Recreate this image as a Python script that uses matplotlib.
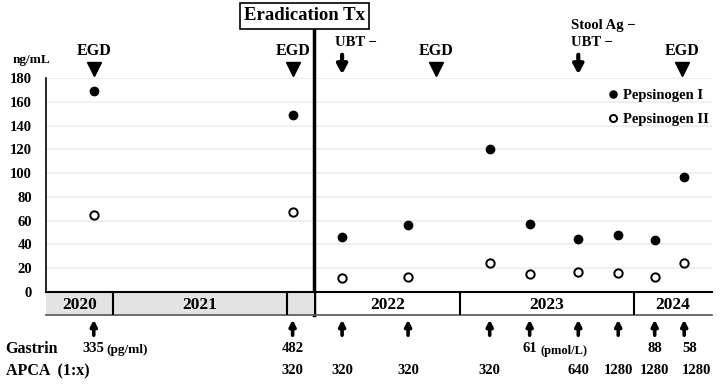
import matplotlib
matplotlib.use("Agg")
import matplotlib.pyplot as plt
from matplotlib.patches import Rectangle
import matplotlib.transforms as mtrans

plt.rcParams['font.family'] = ['Liberation Serif', 'DejaVu Serif']
plt.rcParams['font.weight'] = 'bold'

# ---- data ----
visit_t = [2020.89, 2022.035, 2022.32, 2022.70, 2023.17, 2023.40, 2023.68, 2023.91, 2024.12, 2024.29]
pg1 = [169, 149, 46, 56, 120, 57, 45, 48, 44, 97]
pg2 = [65, 67, 12, 13, 24, 15, 17, 16, 13, 24]
egd_t = [2020.89, 2022.035, 2022.86, 2024.28]
ubt_t = [2022.32, 2023.68]
erad_t = 2022.16
years = [2020, 2021, 2022, 2023, 2024]
gastrin_t = [2020.89, 2022.035, 2023.40, 2024.12, 2024.32]
gastrin_lbl = ["335", "482", "61", "88", "58"]
apca_t = [2022.035, 2022.32, 2022.70, 2023.17, 2023.68, 2023.91, 2024.12, 2024.36]
apca_lbl = ["320", "320", "320", "320", "640", "1280", "1280", "1280"]
yticks = [0, 20, 40, 60, 80, 100, 120, 140, 160, 180]
xmin, xmax = 2020.615, 2024.45

W, H = 728, 391
fig = plt.figure(figsize=(W / 100, H / 100), dpi=100)

def fy(py):
    return 1 - py / H

def fx(px):
    return px / W

ax = fig.add_axes([fx(46), fy(292), fx(712) - fx(46), fy(78) - fy(292)])
ax.set_xlim(xmin, xmax)
ax.set_ylim(0, 180)
ax.set_yticks(yticks)
ax.set_xticks([])
for s in ['top', 'right', 'bottom']:
    ax.spines[s].set_visible(False)
ax.spines['left'].set_linewidth(1.2)
ax.tick_params(axis='y', length=0, labelsize=10.5, pad=10)
for lbl in ax.get_yticklabels():
    lbl.set_fontweight('bold')
ax.yaxis.grid(True, color='#ececec', linewidth=1.2)
ax.set_axisbelow(True)

ax.plot(visit_t, pg1, 'o', color='black', markersize=6, label='Pepsinogen I', clip_on=False, zorder=5)
ax.plot(visit_t, pg2, 'o', markerfacecolor='white', markeredgecolor='black', markeredgewidth=1.4,
        markersize=6, label='Pepsinogen II', clip_on=False, zorder=5)
leg = ax.legend(loc='upper right', bbox_to_anchor=(1.015, 1.01), frameon=False, fontsize=10.5,
                handletextpad=0.1, labelspacing=0.75, markerscale=0.85, handlelength=1.2)
for t in leg.get_texts():
    t.set_fontweight('bold')

# ---- year band ----
bax = fig.add_axes([fx(46), fy(315), fx(712) - fx(46), fy(292) - fy(315)])
bax.set_xlim(xmin, xmax)
bax.set_ylim(0, 1)
bax.axis('off')
bax.add_patch(Rectangle((xmin, 0), erad_t - xmin, 1, facecolor='#e3e3e3', edgecolor='none'))
bax.plot([xmin, xmax], [1, 1], color='black', lw=1.5, clip_on=False)
bax.plot([xmin, xmax], [0, 0], color='#555555', lw=1.2, clip_on=False)
for y in years[1:]:
    bax.plot([y, y], [0, 1], color='black', lw=1.5)
bounds = [xmin] + years[1:] + [xmax]
for i, y in enumerate(years):
    lo, hi = bounds[i], bounds[i + 1]
    if y == 2022:
        lo = erad_t
    bax.text((lo + hi) / 2, 0.45, str(y), ha='center', va='center', fontsize=12.5, fontweight='bold')

# ---- eradication line and box ----
tb = mtrans.blended_transform_factory(ax.transData, fig.transFigure)
ax.plot([erad_t, erad_t], [fy(315), fy(28)], color='black', lw=2.5, transform=tb, clip_on=False, zorder=6)
fig.text(fx(304.5), fy(16), "Eradication Tx", ha='center', va='center', fontsize=13.5, fontweight='bold',
         bbox=dict(boxstyle='square,pad=0.22', facecolor='white', edgecolor='black', lw=1.2))

ax.text(fx(31), fy(60), "ng/mL", transform=fig.transFigure,
        fontsize=9.5, ha='center', va='center', fontweight='bold')

# EGD markers
for t in egd_t:
    ax.text(t, fy(51), "EGD", transform=tb, ha='center', va='center', fontsize=11.5, fontweight='bold')
    ax.plot([t], [fy(69)], marker='v', color='black', markersize=10, transform=tb, clip_on=False)

# UBT arrows
for t in ubt_t:
    ax.annotate('', xy=(t, fy(77)), xytext=(t, fy(52)), xycoords=tb, textcoords=tb,
                arrowprops=dict(arrowstyle='-|>,head_width=0.3,head_length=0.55', color='black', lw=3))
ax.text(ubt_t[0] - 0.04, fy(43), "UBT \u2212", transform=tb, ha='left', va='center', fontsize=10.5, fontweight='bold')
ax.text(ubt_t[1] - 0.04, fy(43), "UBT \u2212", transform=tb, ha='left', va='center', fontsize=10.5, fontweight='bold')
ax.text(ubt_t[1] - 0.04, fy(25), "Stool Ag \u2212", transform=tb, ha='left', va='center', fontsize=10.5, fontweight='bold')

# arrows under the band
for t in visit_t:
    ax.annotate('', xy=(t, fy(317)), xytext=(t, fy(338)), xycoords=tb, textcoords=tb,
                arrowprops=dict(arrowstyle='-|>,head_width=0.18,head_length=0.35', color='black', lw=2.6))

# gastrin / APCA rows
fig.text(fx(5), fy(349), "Gastrin", ha='left', va='center', fontsize=11.5, fontweight='bold')
fig.text(fx(6), fy(371), "APCA  (1:x)", ha='left', va='center', fontsize=11.5, fontweight='bold')
for t, l in zip(gastrin_t, gastrin_lbl):
    ax.text(t, fy(349), l, transform=tb, ha='center', va='center', fontsize=10.5, fontweight='bold')
ax.text(gastrin_t[0] + 0.075, fy(350), "(pg/ml)", transform=tb, ha='left', va='center', fontsize=9.5, fontweight='bold')
ax.text(gastrin_t[2] + 0.06, fy(351), "(pmol/L)", transform=tb, ha='left', va='center', fontsize=9, fontweight='bold')
for t, l in zip(apca_t, apca_lbl):
    ax.text(t, fy(371), l, transform=tb, ha='center', va='center', fontsize=10.5, fontweight='bold')

fig.savefig("out.png", dpi=100)
